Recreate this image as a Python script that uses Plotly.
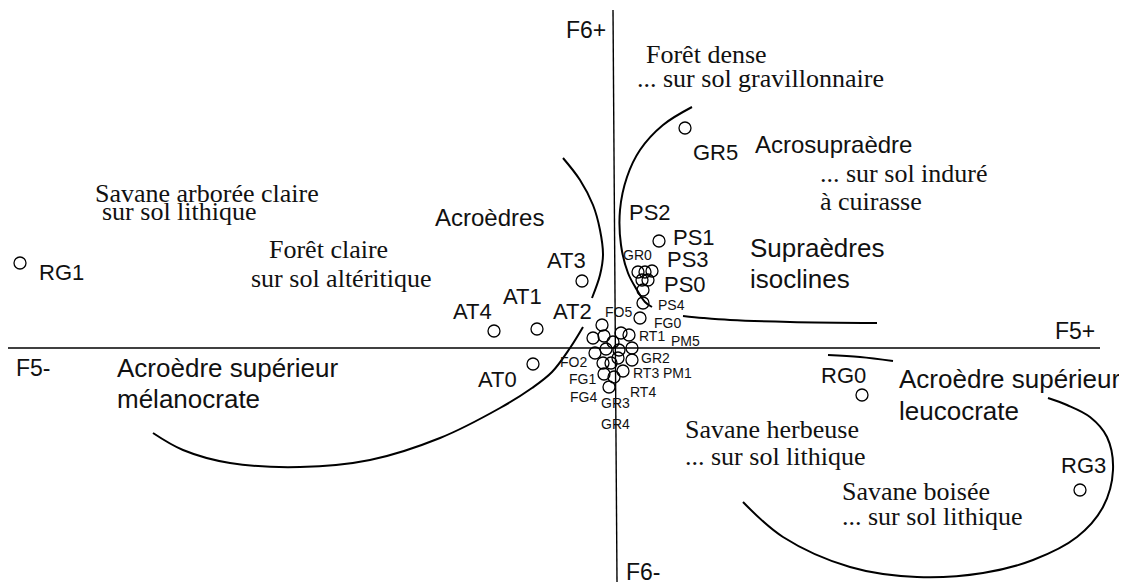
import plotly.graph_objects as go

# Site scores on factor F5 (horizontal) and F6 (vertical)
site_f5 = [-5.95, -1.21, -0.78, -0.33, -0.82, 0.70, 0.44,
           0.23, 0.30, 0.37, 0.27, 0.33, 0.28, 0.28, 0.25,
           -0.13, -0.22, -0.11, -0.02, 0.06, 0.14, 0.17, -0.20, -0.09,
           0.04, -0.12, -0.04, 0.03, 0.17, 0.08, -0.11, -0.01, -0.06,
           2.47, 4.65]
site_f6 = [0.85, 0.17, 0.19, 0.67, -0.16, 2.20, 1.07,
           0.76, 0.76, 0.77, 0.68, 0.68, 0.58, 0.45, 0.30,
           0.23, 0.10, 0.12, 0.06, 0.15, 0.13, 0.00, -0.05, -0.01,
           -0.02, -0.15, -0.15, -0.10, -0.12, -0.23, -0.26, -0.29, -0.39,
           -0.47, -1.42]

# Names of the isolated sites and where they are written
big_names = ["RG1", "AT4", "AT1", "AT3", "AT2", "AT0", "GR5", "PS2",
             "PS1", "PS3", "PS0", "RG0", "RG3"]
big_f5 = [-5.54, -1.43, -0.93, -0.49, -0.43, -1.18, 1.00, 0.35,
          0.79, 0.73, 0.70, 2.28, 4.68]
big_f6 = [0.76, 0.37, 0.52, 0.88, 0.37, -0.31, 1.96, 1.36,
          1.11, 0.89, 0.64, -0.27, -1.17]

# Names of the sites in the central cluster
small_names = ["GR0", "FO5", "PS4", "FG0", "RT1", "PM5", "GR2", "RT3",
               "PM1", "RT4", "FO2", "FG1", "FG4", "GR3", "GR4"]
small_f5 = [0.22, 0.03, 0.56, 0.52, 0.37, 0.70, 0.40, 0.31,
            0.62, 0.28, -0.42, -0.33, -0.32, 0.00, 0.00]
small_f6 = [0.93, 0.36, 0.43, 0.25, 0.12, 0.07, -0.10, -0.25,
            -0.25, -0.44, -0.14, -0.31, -0.49, -0.55, -0.76]

# Axis ends and their names
axis_names = ["F6+", "F6-", "F5-", "F5+"]
axis_f5 = [-0.29, 0.28, -5.82, 4.60]
axis_f6 = [3.18, -2.24, -0.20, 0.17]

# Landform units (sans-serif) and vegetation / soil (serif)
landform_text = ["Acroèdre supérieur", "mélanocrate", "Acroèdre supérieur",
                 "leucocrate", "Supraèdres", "isoclines"]
landform_f5 = [-5.00, -5.00, 2.82, 2.82, 1.33, 1.33]
landform_f6 = [-0.20, -0.51, -0.31, -0.63, 1.00, 0.69]

minor_landform_text = ["Acroèdres", "Acrosupraèdre"]
minor_landform_f5 = [-1.26, 1.38]
minor_landform_f6 = [1.31, 2.04]

veg_center_text = ["Savane arborée claire", "sur sol lithique", "Forêt claire",
                   "sur sol altéritique", "Forêt dense"]
veg_center_f5 = [-4.08, -4.36, -2.87, -2.74, 0.91]
veg_center_f6 = [1.55, 1.37, 0.99, 0.70, 2.94]

veg_left_text = ["... sur sol gravillonnaire", "... sur sol induré", "à cuirasse",
                 "Savane herbeuse", "... sur sol lithique",
                 "Savane boisée", "... sur sol lithique"]
veg_left_f5 = [0.20, 2.03, 2.03, 0.68, 0.68, 2.25, 2.25]
veg_left_f6 = [2.70, 1.75, 1.47, -0.81, -1.08, -1.43, -1.68]

# Hand-drawn boundaries between groups
acroedres_f5 = [-0.52, -0.35, -0.22, -0.15, -0.12, -0.15, -0.23]
acroedres_f6 = [1.90, 1.68, 1.43, 1.18, 0.93, 0.73, 0.50]
supra_f5 = [0.77, 0.48, 0.25, 0.12, 0.05, 0.06, 0.13, 0.22, 0.30, 0.37]
supra_f6 = [2.41, 2.23, 1.98, 1.71, 1.38, 1.03, 0.75, 0.58, 0.46, 0.41]
isocline_f5 = [0.68, 0.88, 1.15, 1.75, 2.62]
isocline_f6 = [0.32, 0.30, 0.28, 0.26, 0.25]
rg0_f5 = [2.13, 2.45, 2.78]
rg0_f6 = [-0.07, -0.09, -0.13]
melano_f5 = [-4.62, -4.32, -3.85, -3.15, -2.45, -1.75, -1.15, -0.83, -0.63, -0.45, -0.32]
melano_f6 = [-0.85, -1.02, -1.15, -1.19, -1.12, -0.90, -0.60, -0.40, -0.24, 0.00, 0.21]
loop_f5 = [1.28, 1.68, 2.35, 3.02, 3.68, 4.18, 4.62, 4.88, 4.98, 4.92, 4.75, 4.52, 4.33]
loop_f6 = [-1.54, -1.89, -2.19, -2.29, -2.25, -2.12, -1.89, -1.59, -1.22, -0.89, -0.69, -0.57, -0.50]

# Axis lines
f5_axis_f5 = [-6.07, 4.85]
f5_axis_f6 = [0.0, 0.0]
f6_axis_f5 = [-0.02, 0.02]
f6_axis_f6 = [3.38, -2.34]

SANS = "Liberation Sans, Arial, Helvetica, sans-serif"
SERIF = "Liberation Serif, Times New Roman, serif"

fig = go.Figure()

for xs, ys in [(f5_axis_f5, f5_axis_f6), (f6_axis_f5, f6_axis_f6)]:
    fig.add_trace(go.Scatter(x=xs, y=ys, mode="lines",
                             line=dict(color="black", width=1.4)))

for xs, ys in [(acroedres_f5, acroedres_f6), (supra_f5, supra_f6),
               (isocline_f5, isocline_f6), (rg0_f5, rg0_f6),
               (melano_f5, melano_f6), (loop_f5, loop_f6)]:
    fig.add_trace(go.Scatter(x=xs, y=ys, mode="lines",
                             line=dict(color="black", width=2, shape="spline")))

fig.add_trace(go.Scatter(
    x=site_f5, y=site_f6, mode="markers",
    marker=dict(symbol="circle-open", size=12, color="black", line=dict(width=1.3)),
))


def add_labels(texts, xs, ys, family, size, xanchor="center"):
    for t, x, y in zip(texts, xs, ys):
        fig.add_annotation(x=x, y=y, text=t, showarrow=False,
                           xanchor=xanchor, yanchor="middle",
                           font=dict(family=family, size=size, color="#111"))


add_labels(big_names, big_f5, big_f6, SANS, 22)
add_labels(small_names, small_f5, small_f6, SANS, 14)
add_labels(axis_names, axis_f5, axis_f6, SANS, 23)
add_labels(landform_text, landform_f5, landform_f6, SANS, 26, "left")
add_labels(minor_landform_text[:1], minor_landform_f5[:1], minor_landform_f6[:1], SANS, 24)
add_labels(minor_landform_text[1:], minor_landform_f5[1:], minor_landform_f6[1:], SANS, 24, "left")
add_labels(veg_center_text, veg_center_f5, veg_center_f6, SERIF, 26)
add_labels(veg_left_text, veg_left_f5, veg_left_f6, SERIF, 26, "left")

# the page body has an 8px margin, so the figure is shrunk by that much
fig.update_layout(
    width=1119, height=577,
    margin=dict(l=0, r=0, t=0, b=0),
    paper_bgcolor="white", plot_bgcolor="white",
    showlegend=False, hovermode=False,
    xaxis=dict(range=[-6.07, 5.12], visible=False, fixedrange=True),
    yaxis=dict(range=[-2.37, 3.40], visible=False, fixedrange=True),
)

fig.write_html("out.html", config={"displayModeBar": False})
